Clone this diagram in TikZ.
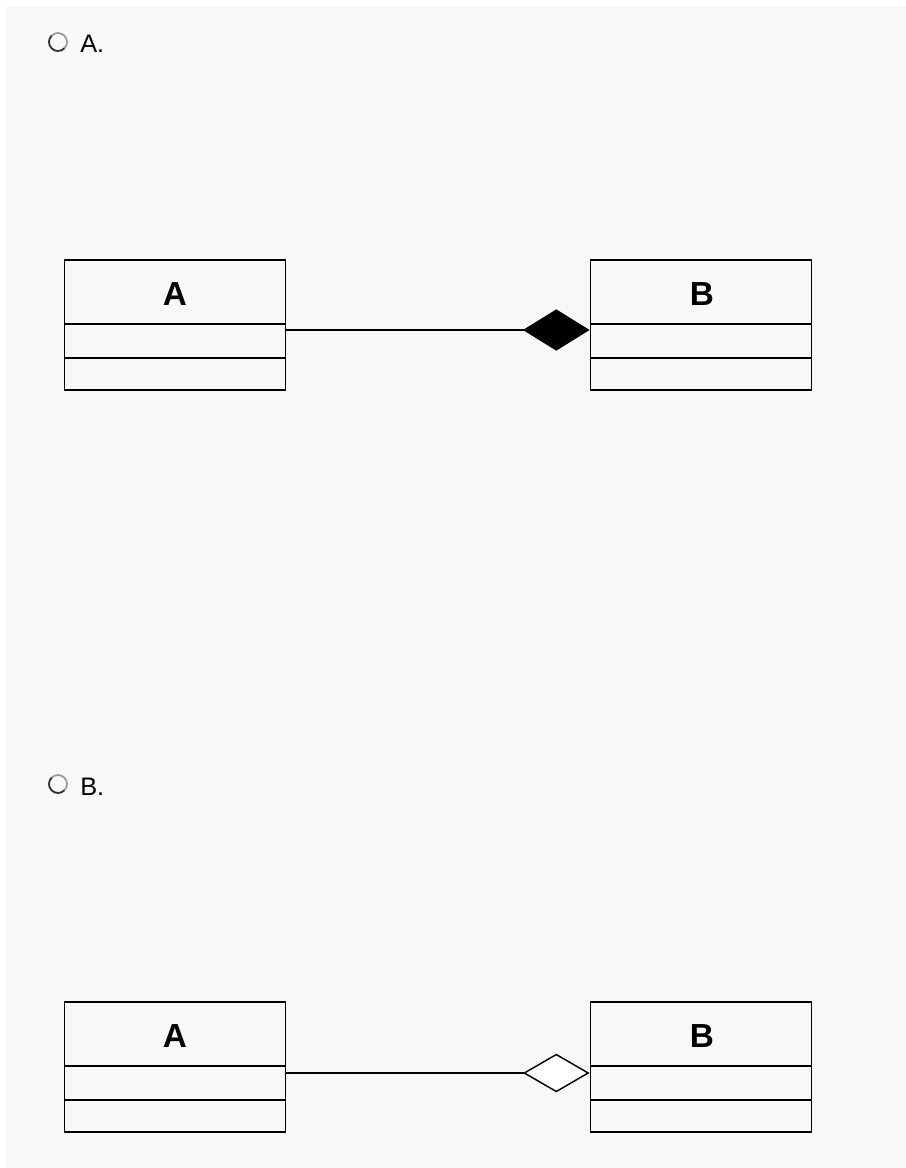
\documentclass[tikz,border=0pt]{standalone}
\usepackage{fontspec}
\setmainfont{Liberation Sans}
\usetikzlibrary{arrows.meta}
\definecolor{fondo}{HTML}{F8F8F8}
\definecolor{radio}{HTML}{9A9A9A}
\tikzset{
  clase/.style={draw, line width=1.1pt, rectangle, inner sep=0pt,
    minimum width=166pt, minimum height=97.5pt},
  nombre/.style={font=\fontsize{25}{25}\selectfont\bfseries},
  opcion/.style={font=\fontsize{19}{19}\selectfont, anchor=west, inner sep=0pt},
  composicion/.style={line width=1.1pt, -{Diamond[length=50pt,width=31pt,fill=black]}},
  agregacion/.style={line width=1.1pt, -{Diamond[open,length=50pt,width=29pt,fill=white]}},
}
\begin{document}
\begin{tikzpicture}[x=0.75pt,y=-0.75pt]
	\useasboundingbox (0,0) rectangle (906,1168);
	\fill[white] (0,0) rectangle (906,1168);
	\fill[fondo] (6,7) rectangle (912,1174); % fondo gris
	% opcion A
	\draw[radio, line width=1.3pt] (58,42) circle [radius=9];
	\draw[gray!40!black, line width=1.3pt] (58,42) ++(45:9) arc (45:225:9);
	\node[opcion] (optA) at (80,44) {A.};
	\node[clase] (a1) at (175,325) {};
	\node[nombre] (na1) at (175,294) {A};
	\draw[line width=1.1pt] (64,324) -- (286,324);
	\draw[line width=1.1pt] (64,358) -- (286,358);
	\node[clase] (b1) at (701,325) {};
	\node[nombre] (nb1) at (702,294) {B};
	\draw[line width=1.1pt] (591,324) -- (811,324);
	\draw[line width=1.1pt] (591,358) -- (811,358);
	\draw[composicion] ([yshift=-3.75pt]a1.east) -- ([yshift=-3.75pt]b1.west);
	% opcion B
	\draw[radio, line width=1.3pt] (58,784) circle [radius=9];
	\draw[gray!40!black, line width=1.3pt] (58,784) ++(45:9) arc (45:225:9);
	\node[opcion] (optB) at (80,787) {B.};
	\node[clase] (a2) at (175,1067) {};
	\node[nombre] (na2) at (175,1036) {A};
	\draw[line width=1.1pt] (64,1066) -- (286,1066);
	\draw[line width=1.1pt] (64,1100) -- (286,1100);
	\node[clase] (b2) at (701,1067) {};
	\node[nombre] (nb2) at (702,1036) {B};
	\draw[line width=1.1pt] (591,1066) -- (811,1066);
	\draw[line width=1.1pt] (591,1100) -- (811,1100);
	\draw[agregacion] ([yshift=-4.5pt]a2.east) -- ([yshift=-4.5pt]b2.west);
\end{tikzpicture}
\end{document}
